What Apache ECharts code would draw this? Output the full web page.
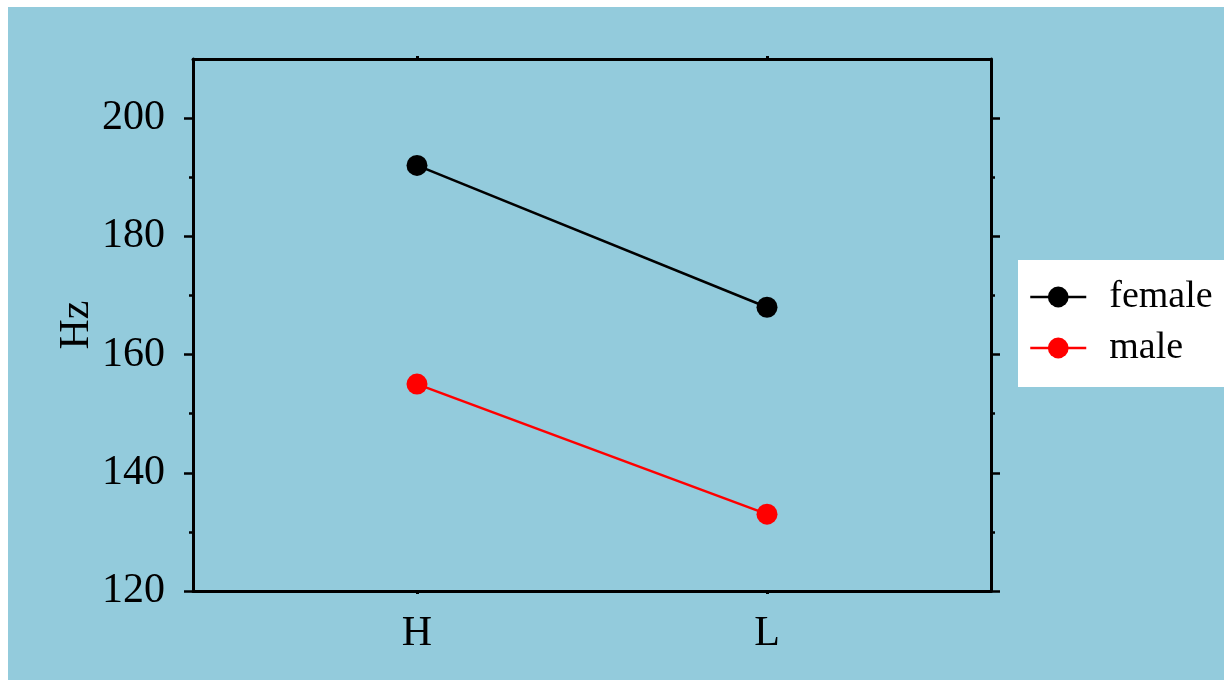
<!DOCTYPE html>
<html>
<head>
<meta charset="utf-8">
<script src="https://cdn.jsdelivr.net/npm/echarts@6/dist/echarts.min.js"></script>
<style>
  html, body { margin: 0; padding: 0; background: #ffffff; width: 1224px; height: 680px; overflow: hidden; }
  #chart { position: absolute; left: 8px; top: 7px; width: 1216px; height: 673px; background: #93CBDC; }
</style>
</head>
<body>
<div id="chart"></div>
<script>
const categories = ['H', 'L'];
const femaleValues = [192, 168];
const maleValues = [155, 133];
const seriesNames = ['female', 'male'];
const yMajorTicks = [120, 140, 160, 180, 200];
const yMinorTicks = [130, 150, 170, 190];

const FONT = "'Liberation Serif', 'Times New Roman', serif";
const catPos = categories.map((c, i) => i + 1);
const toPairs = vals => vals.map((v, i) => [catPos[i], v]);

const X_MIN = 0.36, X_MAX = 2.64;
const Y_MIN = 120, Y_MAX = 210;
const gridRect = { left: 185, top: 52, width: 798, height: 532 };
const lineW = 3;

const chart = echarts.init(document.getElementById('chart'), null, { renderer: 'canvas' });

function xAx(pos, gridIndex, showLabel, show) {
  return {
    type: 'value', gridIndex, position: pos, min: X_MIN, max: X_MAX, show,
    axisLine: { show: true, onZero: false, lineStyle: { color: '#000', width: lineW } },
    axisTick: { show: true, inside: false, length: 3, customValues: catPos, lineStyle: { color: '#000', width: lineW } },
    axisLabel: {
      show: showLabel, customValues: catPos, margin: 22,
      formatter: v => categories[Math.round(v) - 1] || '',
      fontFamily: FONT, fontSize: 42, color: '#000'
    },
    splitLine: { show: false }
  };
}
function yAx(pos, gridIndex, ticks, len, showLine, showLabel, name) {
  const o = {
    type: 'value', gridIndex, position: pos, min: Y_MIN, max: Y_MAX,
    axisLine: { show: showLine, onZero: false, lineStyle: { color: '#000', width: lineW } },
    axisTick: { show: true, inside: false, length: len, customValues: ticks, lineStyle: { color: '#000', width: 2.5 } },
    axisLabel: { show: showLabel, customValues: ticks, margin: 28, fontFamily: FONT, fontSize: 42, color: '#000' },
    splitLine: { show: false }
  };
  if (name) {
    o.name = name;
    o.nameLocation = 'middle';
    o.nameGap = 95;
    o.nameMoveOverlap = false;
    o.nameTextStyle = { fontFamily: FONT, fontSize: 42, color: '#000' };
  }
  return o;
}

const option = {
  backgroundColor: 'transparent',
  animation: false,
  grid: [
    Object.assign({ containLabel: false }, gridRect),
    Object.assign({ containLabel: false }, gridRect)
  ],
  xAxis: [
    xAx('bottom', 0, true, true),
    xAx('top', 0, false, true),
    { type: 'value', gridIndex: 1, min: X_MIN, max: X_MAX, show: false }
  ],
  yAxis: [
    yAx('left', 0, yMajorTicks, 9, true, true, 'Hz'),
    yAx('right', 0, yMajorTicks, 9, true, false),
    yAx('left', 1, yMinorTicks, 4, false, false),
    yAx('right', 1, yMinorTicks, 4, false, false)
  ],
  legend: {
    data: seriesNames,
    orient: 'vertical',
    left: 1010, top: 253,
    backgroundColor: '#ffffff',
    padding: [18, 30, 20, 11],
    itemWidth: 56, itemHeight: 26, itemGap: 13,
    lineStyle: { width: 2.5 },
    textStyle: { fontFamily: FONT, fontSize: 38, color: '#000', padding: [0, 0, 0, 18] }
  },
  series: [
    {
      name: seriesNames[0], type: 'line', xAxisIndex: 0, yAxisIndex: 0,
      data: toPairs(femaleValues), symbol: 'circle', symbolSize: 21,
      itemStyle: { color: '#000000' }, lineStyle: { color: '#000000', width: 2.5 }, z: 5
    },
    {
      name: seriesNames[1], type: 'line', xAxisIndex: 0, yAxisIndex: 0,
      data: toPairs(maleValues), symbol: 'circle', symbolSize: 21,
      itemStyle: { color: '#ff0000' }, lineStyle: { color: '#ff0000', width: 2.5 }, z: 5
    }
  ]
};
chart.setOption(option);
</script>
</body>
</html>
